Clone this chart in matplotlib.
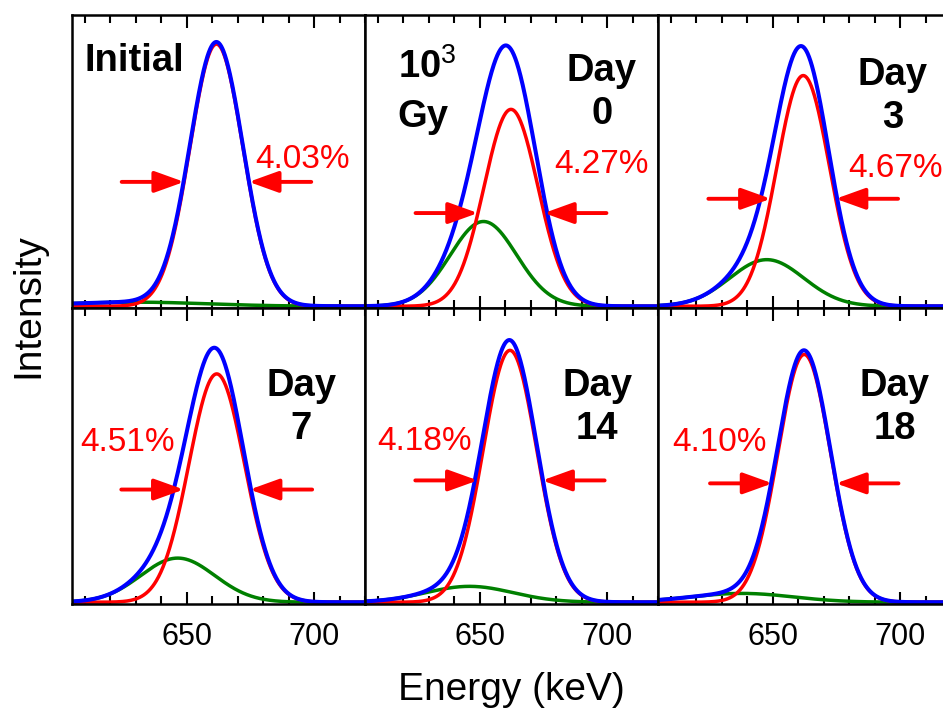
import numpy as np
import matplotlib
matplotlib.use("Agg")
import matplotlib.pyplot as plt
from matplotlib.ticker import MultipleLocator, FixedLocator

plt.rcParams['font.family'] = ['Liberation Sans', 'DejaVu Sans']
plt.rcParams['mathtext.fontset'] = 'custom'
plt.rcParams['mathtext.rm'] = 'Liberation Sans'
plt.rcParams['mathtext.bf'] = 'Liberation Sans:bold'

# fit parameters (normalised intensity, keV)
panel_names = ["Initial", "Day 0", "Day 3", "Day 7", "Day 14", "Day 18"]
main_amp = [0.900, 0.676, 0.792, 0.776, 0.856, 0.842]
main_mu = [661.7, 662.3, 662.0, 661.8, 661.9, 662.4]
main_sigma = [10.4, 10.6, 10.3, 10.9, 10.5, 10.3]
side_amp = [0.014, 0.291, 0.160, 0.150, 0.054, 0.030]
side_mu = [630.0, 651.5, 647.7, 646.5, 646.0, 638.0]
side_sigma = [28.0, 13.0, 14.5, 14.5, 17.0, 20.0]
fwhm_labels = ["4.03%", "4.27%", "4.67%", "4.51%", "4.18%", "4.10%"]
day_labels = [None, "Day\n0", "Day\n3", "Day\n7", "Day\n14", "Day\n18"]
arrow_y = [0.427, 0.320, 0.369, 0.383, 0.414, 0.404]

# label placement (keV, fraction of panel height)
pct_pos = [(677.1, 0.505), (679.2, 0.488), (679.5, 0.474),
           (608.4, 0.543), (609.7, 0.545), (610.7, 0.543)]
day_pos = [None, (698.0, 0.868), (697.2, 0.855), (695.0, 0.796),
           (696.2, 0.796), (698.0, 0.796)]

x = np.linspace(605, 720, 800)


def gauss(a, mu, s):
    return a * np.exp(-(x - mu) ** 2 / (2 * s ** 2))


fig = plt.figure(figsize=(9.43, 7.11), dpi=100)
col_x = [72 / 943, 365 / 943, 658 / 943]
w = 293 / 943
rows = [(1 - 308 / 711, 293 / 711), (1 - 604 / 711, 296 / 711)]

for i in range(6):
    r, c = divmod(i, 3)
    ax = fig.add_axes([col_x[c], rows[r][0], w, rows[r][1]])
    red = gauss(main_amp[i], main_mu[i], main_sigma[i])
    green = gauss(side_amp[i], side_mu[i], side_sigma[i])
    total = red + green
    ax.plot(x, total, color='black', lw=0.8)
    ax.plot(x, green, color='#008000', lw=2.5)
    ax.plot(x, red, color='#ff0000', lw=2.5)
    ax.plot(x, total, color='#0000ff', lw=2.9)

    ax.set_xlim(605, 720)
    ax.set_ylim(-0.006, 1.0)
    ax.xaxis.set_major_locator(FixedLocator([650, 700]))
    ax.xaxis.set_minor_locator(MultipleLocator(10))
    ax.tick_params(axis='x', which='both', direction='in', top=True,
                   width=1.5, labelsize=22, pad=13)
    ax.tick_params(axis='x', which='major', length=9)
    ax.tick_params(axis='x', which='minor', length=5.5)
    ax.set_yticks([])
    if r == 0:
        ax.tick_params(axis='x', labelbottom=False)
    for sp in ax.spines.values():
        sp.set_linewidth(1.8)

    # FWHM arrows, tips on the main peak
    y0 = arrow_y[i]
    d = main_sigma[i] * np.sqrt(2 * np.log(main_amp[i] / y0))
    lt, rt = main_mu[i] - d, main_mu[i] + d
    arrow = dict(arrowstyle='-|>,head_length=1.0,head_width=0.36',
                 color='#ff0000', lw=2.8, mutation_scale=18,
                 shrinkA=0, shrinkB=0)
    ax.annotate('', xy=(lt, y0), xytext=(lt - 24.5, y0), arrowprops=arrow)
    ax.annotate('', xy=(rt, y0), xytext=(rt + 24.5, y0), arrowprops=arrow)

    ax.text(pct_pos[i][0], pct_pos[i][1], fwhm_labels[i], color='#ff0000',
            fontsize=24, ha='left', va='center')
    if day_labels[i]:
        ax.text(day_pos[i][0], day_pos[i][1], day_labels[i], fontsize=27.5,
                fontweight='bold', ha='center', va='top', linespacing=1.25,
                multialignment='center')

fig.axes[0].text(610.1, 0.903, "Initial", fontsize=27.5, fontweight='bold',
                 ha='left', va='top')
fig.axes[1].text(617.9, 0.885, r'$\mathbf{10}^{\mathrm{3}}$', fontsize=27.5,
                 ha='left', va='top')
fig.axes[1].text(617.9, 0.71, "Gy", fontsize=27.5, fontweight='bold',
                 ha='left', va='top')

fig.text(0.5424, 0.0295, "Energy (keV)", fontsize=28, ha='center', va='center')
fig.text(0.030, 0.57, "Intensity", fontsize=28, rotation=90,
         ha='center', va='center')

fig.savefig("out.png", dpi=100)
